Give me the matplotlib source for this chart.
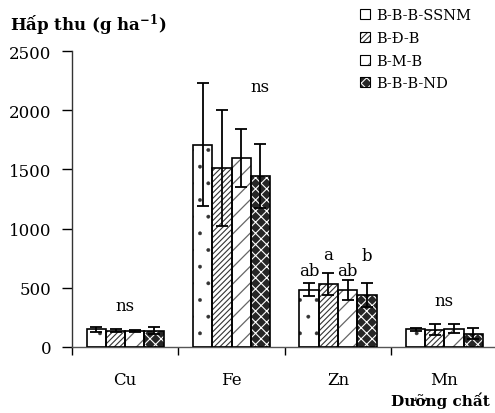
import numpy as np
import matplotlib.pyplot as plt
from matplotlib.patches import Patch
from matplotlib.legend_handler import HandlerTuple

plt.rcParams['font.family'] = ['DejaVu Serif', 'Liberation Serif']
plt.rcParams['mathtext.default'] = 'regular'

# data
nutrients = ['Cu', 'Fe', 'Zn', 'Mn']
treatments = ['B-B-B-SSNM', 'B-Đ-B', 'B-M-B', 'B-B-B-ND']
uptake = [
    [150, 1710, 484, 149],   # B-B-B-SSNM
    [138, 1510, 532, 147],   # B-Đ-B
    [138, 1600, 484, 155],   # B-M-B
    [138, 1447, 439, 112],   # B-B-B-ND
]
err = [
    [20, 520, 55, 12],
    [15, 490, 95, 45],
    [8, 245, 85, 40],
    [32, 270, 100, 48],
]
letters = [
    ['', '', 'ab', ''],
    ['', '', 'a', ''],
    ['', '', 'ab', ''],
    ['', '', 'b', ''],
]
ns_labels = [('ns', 0, 350), ('ns', 1.27, 2200), ('ns', 3, 390)]
letter_y = [650, 785, 650, 770]

# look of each treatment: face, hatch, hatch colour, hatch width
styles = [
    ('white', '.', '#333333', 0.3),
    ('white', '//////', '#333333', 0.8),
    ('white', '//', '#666666', 0.9),
    ('#262626', 'xxx', 'white', 0.8),
]

fig = plt.figure(figsize=(4.95, 4.14), dpi=100)
ax = fig.add_axes([72 / 495, 66 / 414, 425.6 / 495, 296 / 414])

x = np.arange(len(nutrients))
w = 0.181
handles = []
for i, name in enumerate(treatments):
    fc, hatch, hc, hlw = styles[i]
    plt.rcParams['hatch.linewidth'] = hlw
    pos = x + (i - 1.5) * w
    ax.bar(pos, uptake[i], w, color=fc, edgecolor=hc, hatch=hatch, linewidth=0, zorder=2)
    ax.bar(pos, uptake[i], w, fill=False, edgecolor='black', linewidth=1.2, zorder=3)
    ax.errorbar(pos, uptake[i], yerr=err[i], fmt='none', ecolor='black',
                elinewidth=1.3, capsize=4.5, capthick=1.3, zorder=4)
    for j, t in enumerate(letters[i]):
        if t:
            ax.text(pos[j], letter_y[i], t, ha='center', va='center', fontsize=12)
    handles.append((Patch(facecolor=fc, edgecolor=hc, hatch=hatch, linewidth=0),
                    Patch(fill=False, edgecolor='black', linewidth=0.8)))

for t, xp, yp in ns_labels:
    ax.text(xp, yp, t, ha='center', va='center', fontsize=12)

ax.set_xlim(-0.5, 3.5)
ax.set_ylim(0, 2500)
ax.set_yticks([0, 500, 1000, 1500, 2000, 2500])
ax.set_xticks([-0.5, 0.5, 1.5, 2.5, 3.5])
ax.set_xticklabels([])
ax.set_xticks(x, minor=True)
ax.set_xticklabels(nutrients, minor=True)
ax.tick_params(axis='x', which='major', direction='out', length=6, width=1)
ax.tick_params(axis='x', which='minor', length=0, pad=17, labelsize=12)
ax.tick_params(axis='y', direction='out', length=7, width=1, pad=8, labelsize=12)
ax.spines['top'].set_visible(False)
ax.spines['right'].set_visible(False)
ax.spines['left'].set_linewidth(1)
ax.spines['bottom'].set_linewidth(1)
ax.spines['bottom'].set_color('#555555')
ax.spines['left'].set_color('#333333')

fig.text(10 / 495, 1 - 25 / 414, 'Hấp thu (g ha$^{-1}$)', fontsize=12,
         fontweight='bold', va='center', ha='left')
fig.text(490 / 495, 1 - 401 / 414, 'Dưỡng chất', fontsize=11,
         fontweight='bold', va='center', ha='right')

fig.legend(handles, treatments, loc='upper left', bbox_to_anchor=(350 / 495, 1 + 1 / 414),
           frameon=False, fontsize=10.5, handler_map={tuple: HandlerTuple(ndivide=1)},
           handlelength=0.7, handleheight=0.7, handletextpad=0.4, labelspacing=0.6,
           borderpad=0.2)

fig.savefig('out.png', dpi=100)
